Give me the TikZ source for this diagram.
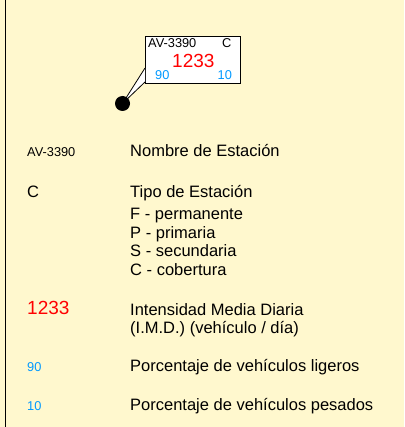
\documentclass[tikz,border=0pt]{standalone}
\usepackage{fontspec}
\setmainfont{Liberation Sans}
\definecolor{crema}{RGB}{255,248,206}
\definecolor{rojo}{RGB}{255,0,0}
\definecolor{celeste}{RGB}{0,153,255}
\tikzset{
  txt/.style={anchor=base west,inner sep=0pt,font=\fontsize{16.5}{19}\selectfont},
  chico/.style={anchor=base west,inner sep=0pt,font=\fontsize{12.8}{15}\selectfont},
  grande/.style={anchor=base west,inner sep=0pt,text=rojo,font=\fontsize{19}{22}\selectfont}
}
\begin{document}
\begin{tikzpicture}[x=1pt,y=-1pt]

\fill[crema] (0,0) rectangle (404,427);
\useasboundingbox (0,0) rectangle (404,427);
\draw[line width=1.5pt] (5.5,0) -- (5.5,427);

\node[draw,fill=white,line width=1pt,anchor=north west,inner sep=0pt,minimum width=95pt,minimum height=47pt] (caja) at (145,36) {};
\coordinate (c1) at (145,68);
\coordinate (c2) at (145,82);
\node[circle,inner sep=0pt,minimum size=15pt] (punto) at (122.5,103.5) {};
\filldraw[fill=white,line width=0.8pt] (c1) -- (punto.center) -- (c2);
\fill (punto) circle (7.5pt);

\node[chico] (nom) at (148,47.3) {AV-3390};
\node[chico] (tip) at (222,47.3) {C};
\node[grande] (imd) at (172,67.7) {1233};
\node[chico,text=celeste] (lig) at (155,79.3) {90};
\node[chico,text=celeste] (pes) at (217.5,79.3) {10};

\node[chico] (nomA) at (27,157) {AV-3390};
\node[txt] (nomB) at (130,157) {Nombre de Estación};
\node[txt] (tipA) at (27,198) {C};
\node[txt] (tipB) at (130,198) {Tipo de Estación};
\node[txt] (tipF) at (130,219.3) {F - permanente};
\node[txt] (tipP) at (130,238.3) {P - primaria};
\node[txt] (tipS) at (130,256.5) {S - secundaria};
\node[txt] (tipC) at (130,275.3) {C - cobertura};
\node[grande] (imdA) at (27,314.3) {1233};
\node[txt] (imdB) at (130,315) {Intensidad Media Diaria};
\node[txt] (imdC) at (130,333.5) {(I.M.D.) (vehículo / día)};
\node[chico,text=celeste] (ligA) at (27,371) {90};
\node[txt] (ligB) at (130,371.7) {Porcentaje de vehículos ligeros};
\node[chico,text=celeste] (pesA) at (27,410) {10};
\node[txt] (pesB) at (130,410) {Porcentaje de vehículos pesados};
\end{tikzpicture}
\end{document}
